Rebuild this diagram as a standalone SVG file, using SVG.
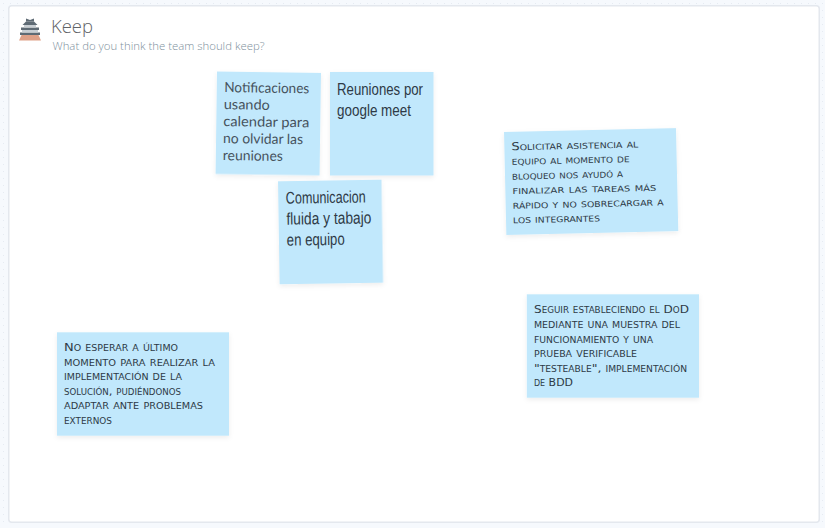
<svg xmlns="http://www.w3.org/2000/svg" width="825" height="528" viewBox="0 0 825 528">
<style>
.title{font-family:"Open Sans","Lato",sans-serif;font-size:18px;font-weight:300;fill:#5f6368}
.sub{font-family:"Open Sans","Lato",sans-serif;font-size:11px;font-weight:300;fill:#7e8f9c}
.note{fill:#c1e8fc;filter:url(#sh)}
.a{font-family:"Lato","Open Sans",sans-serif;font-size:14px;fill:#46525c}
.b{font-family:"Liberation Sans Narrow","Liberation Sans",sans-serif;font-size:17px;fill:#2e3a46}
.c{font-family:"DejaVu Sans",sans-serif;font-size:11px;font-variant:small-caps;fill:#2e3a46}
</style>
<defs>
<filter id="sh" x="-10%" y="-10%" width="120%" height="125%"><feDropShadow dx="0" dy="2" stdDeviation="2.5" flood-color="#000" flood-opacity="0.07"/></filter>
<pattern id="dots" width="7" height="7" patternUnits="userSpaceOnUse"><rect width="7" height="7" fill="#f6f9fd"/><rect x="3" y="3" width="1" height="1" fill="#e6ebf2"/></pattern>
</defs>
<rect width="825" height="528" fill="url(#dots)"/>
<rect x="8.750" y="5.750" width="810.500" height="516.500" rx="3" fill="#fff" stroke="#e4e8ee" stroke-width="1.500"/>
<g id="icon">
<path d="M19 40.500 L21.500 35 H38.500 L41 40.500 Z" fill="#dfa188"/>
<rect x="20" y="32.500" width="20" height="2.500" fill="#5f6b75"/>
<rect x="22" y="30" width="16" height="2.500" fill="#c9cfd4"/>
<rect x="21" y="27.500" width="18" height="2.500" fill="#5f6b75"/>
<rect x="24" y="25" width="12" height="2.500" fill="#c9cfd4"/>
<path d="M22.500 25 L26 21.500 H34 L37.500 25 Z" fill="#5f6b75"/>
<path d="M26 21.500 V18.500 L30 20 L34 18.500 V21.500 Z" fill="#5f6b75"/>
</g>
<g id="header">
<text class="title" x="51" y="33" textLength="42" lengthAdjust="spacingAndGlyphs">Keep</text>
<text class="sub" x="52.500" y="50" textLength="212" lengthAdjust="spacingAndGlyphs">What do you think the team should keep?</text>
</g>
<g id="connectors"/>
<g id="note-notificaciones" transform="translate(217 71.500) rotate(0.8)">
<rect class="note" width="104" height="102.500"/>
<text class="a" x="7.500" y="20.500" textLength="85" lengthAdjust="spacingAndGlyphs">Notificaciones</text>
<text class="a" x="7.300" y="37.500" textLength="46" lengthAdjust="spacingAndGlyphs">usando</text>
<text class="a" x="7" y="54.500" textLength="86" lengthAdjust="spacingAndGlyphs">calendar para</text>
<text class="a" x="7" y="71.500" textLength="80" lengthAdjust="spacingAndGlyphs">no olvidar las</text>
<text class="a" x="7" y="88.500" textLength="60" lengthAdjust="spacingAndGlyphs">reuniones</text>
</g>
<g id="note-reuniones" transform="translate(330 72)">
<rect class="note" width="103.500" height="103.500"/>
<text class="b" x="7" y="23" textLength="86" lengthAdjust="spacingAndGlyphs">Reuniones por</text>
<text class="b" x="7" y="44" textLength="74" lengthAdjust="spacingAndGlyphs">google meet</text>
</g>
<g id="note-comunicacion" transform="translate(278 181.300) rotate(-0.9)">
<rect class="note" width="103.500" height="103"/>
<text class="b" x="7.500" y="22.500" textLength="80" lengthAdjust="spacingAndGlyphs">Comunicacion</text>
<text class="b" x="7.800" y="43.500" textLength="85" lengthAdjust="spacingAndGlyphs">fluida y tabajo</text>
<text class="b" x="7.800" y="64.500" textLength="58" lengthAdjust="spacingAndGlyphs">en equipo</text>
</g>
<g id="note-solicitar" transform="translate(504 132) rotate(-1.3)">
<rect class="note" width="172" height="103"/>
<text class="c" x="7" y="18.500" textLength="127" lengthAdjust="spacingAndGlyphs">Solicitar asistencia al</text>
<text class="c" x="7" y="33" textLength="118" lengthAdjust="spacingAndGlyphs">equipo al momento de</text>
<text class="c" x="7" y="47.800" textLength="111" lengthAdjust="spacingAndGlyphs">bloqueo nos ayudó a</text>
<text class="c" x="7" y="62.300" textLength="144" lengthAdjust="spacingAndGlyphs">finalizar las tareas más</text>
<text class="c" x="7" y="77" textLength="151" lengthAdjust="spacingAndGlyphs">rápido y no sobrecargar a</text>
<text class="c" x="7" y="91.500" textLength="87" lengthAdjust="spacingAndGlyphs">los integrantes</text>
</g>
<g id="note-seguir" transform="translate(526.800 294.300)">
<rect class="note" width="172.200" height="103.400"/>
<text class="c" x="7.200" y="18.700" textLength="155" lengthAdjust="spacingAndGlyphs">Seguir estableciendo el DoD</text>
<text class="c" x="7.200" y="33.400" textLength="146" lengthAdjust="spacingAndGlyphs">mediante una muestra del</text>
<text class="c" x="7.200" y="48.400" textLength="119" lengthAdjust="spacingAndGlyphs">funcionamiento y una</text>
<text class="c" x="7.200" y="62.800" textLength="103" lengthAdjust="spacingAndGlyphs">prueba verificable</text>
<text class="c" x="7.200" y="77.500" textLength="153" lengthAdjust="spacingAndGlyphs">"testeable", implementación</text>
<text class="c" x="7.200" y="91.500" textLength="39" lengthAdjust="spacingAndGlyphs">de BDD</text>
</g>
<g id="note-no" transform="translate(57 332.300)">
<rect class="note" width="172" height="103.400"/>
<text class="c" x="7" y="18.700" textLength="114" lengthAdjust="spacingAndGlyphs">No esperar a último</text>
<text class="c" x="7" y="33.400" textLength="151" lengthAdjust="spacingAndGlyphs">momento para realizar la</text>
<text class="c" x="7" y="48" textLength="118" lengthAdjust="spacingAndGlyphs">implementación de la</text>
<text class="c" x="7" y="62.700" textLength="117" lengthAdjust="spacingAndGlyphs">solución, pudiéndonos</text>
<text class="c" x="7" y="77.200" textLength="139" lengthAdjust="spacingAndGlyphs">adaptar ante problemas</text>
<text class="c" x="7" y="91.800" textLength="48" lengthAdjust="spacingAndGlyphs">externos</text>
</g>
</svg>
